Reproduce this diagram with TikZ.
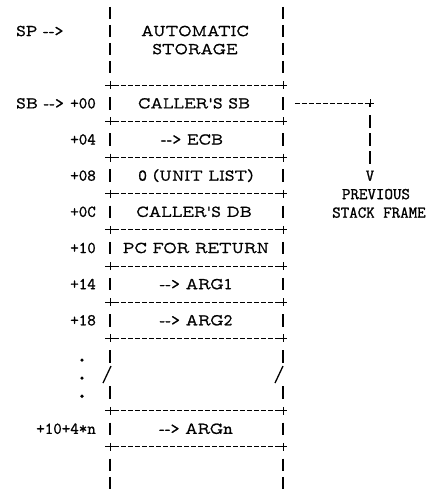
\documentclass[tikz,border=0pt]{standalone}
\usepackage{fontspec}
\setmonofont{Latin Modern Mono Prop}[FakeBold=1.2]
\newfontfamily\offsetfont{Latin Modern Mono}[FakeBold=1.2]
\usetikzlibrary{positioning}

\tikzset{
  cell/.style={font=\ttfamily\fontsize{16.5}{18}\selectfont,inner sep=0pt,text height=10pt,text depth=0pt},
  fixedcell/.style={cell,font=\offsetfont\fontsize{16.5}{18}\selectfont},
  offset/.style={fixedcell,anchor=east},
  framebar/.style={line width=1.5pt},
  framerule/.style={line width=1.1pt,dash pattern=on 5.5pt off 1.5pt},
  crossmark/.pic={\draw[line width=0.9pt] (-4.5,0) -- (4.5,0) (0,-.22) -- (0,.22);}
}

\begin{document}
\begin{tikzpicture}[x=1pt,y=-18.08pt]
\useasboundingbox (0,0.281) rectangle (430,27.44);
% sides of the frame
\foreach \r in {1,2,3,4,6,8,10,12,14,16,18,20,22,24,26,27}{
  \draw[framebar] (110,\r-.345) -- (110,\r+.345);
  \draw[framebar] (283,\r-.345) -- (283,\r+.345);
}
% lines between the words
\foreach \r in {5,7,9,11,13,15,17,19,23,25}{
  \draw[framerule] (114,\r) -- (279,\r);
  \pic at (110,\r) {crossmark};
  \pic at (283,\r) {crossmark};
}
% the break
\draw[framebar,line width=1.3pt] (103,21.47) -- (111,20.53);
\draw[framebar,line width=1.3pt] (275,21.47) -- (283,20.53);
\foreach \r in {20,21,22}
  \fill (82,\r+.2) circle (1.8pt);

\node[cell,anchor=west] (sp) at (16,2) {SP -->};
\node[cell] (auto) at (195,2) {AUTOMATIC};
\node[cell] (store) at (195,3) {STORAGE};

\node[cell,anchor=west] (sb) at (16,6) {SB -->};
\node[offset] (o00) at (96,6) {+00};
\node[cell] (callsb) at (194,6) {CALLER'S SB};
\node[offset] (o04) at (96,8) {+04};
\node[cell] (ecb) at (192,8) {--> ECB};
\node[offset] (o08) at (96,10) {+08};
\node[cell] (unit) at (196,10) {0 (UNIT LIST)};
\node[offset] (o0c) at (96,12) {+0C};
\node[cell] (calldb) at (194,12) {CALLER'S DB};
\node[offset] (o10) at (96,14) {+10};
\node[cell] (retpc) at (196,14) {PC FOR RETURN};
\node[offset] (o14) at (96,16) {+14};
\node[cell] (arg1) at (196,16) {--> ARG1};
\node[offset] (o18) at (96,18) {+18};
\node[cell] (arg2) at (196,18) {--> ARG2};
\node[offset] (on) at (96,24) {+10+4*n};
\node[cell] (argn) at (196,24) {--> ARGn};

% link to the previous frame
\coordinate (sbout) at (295,6);
\coordinate (corner) at (370,6);
\node[fixedcell] (down) at (370,10) {V};
\node[fixedcell,below=8.08pt of down,xshift=6pt] (prev) {PREVIOUS};
\node[fixedcell,below=8.08pt of prev,xshift=3pt] (frame) {STACK FRAME};
\draw[framerule] (sbout) -- (corner);
\pic at (corner) {crossmark};
\draw[framebar,dash pattern=on 4pt off 7.8pt on 12.5pt off 5.58pt on 12.5pt off 5.58pt on 12.5pt off 30pt] (corner) -- (down.north);
\end{tikzpicture}
\end{document}
